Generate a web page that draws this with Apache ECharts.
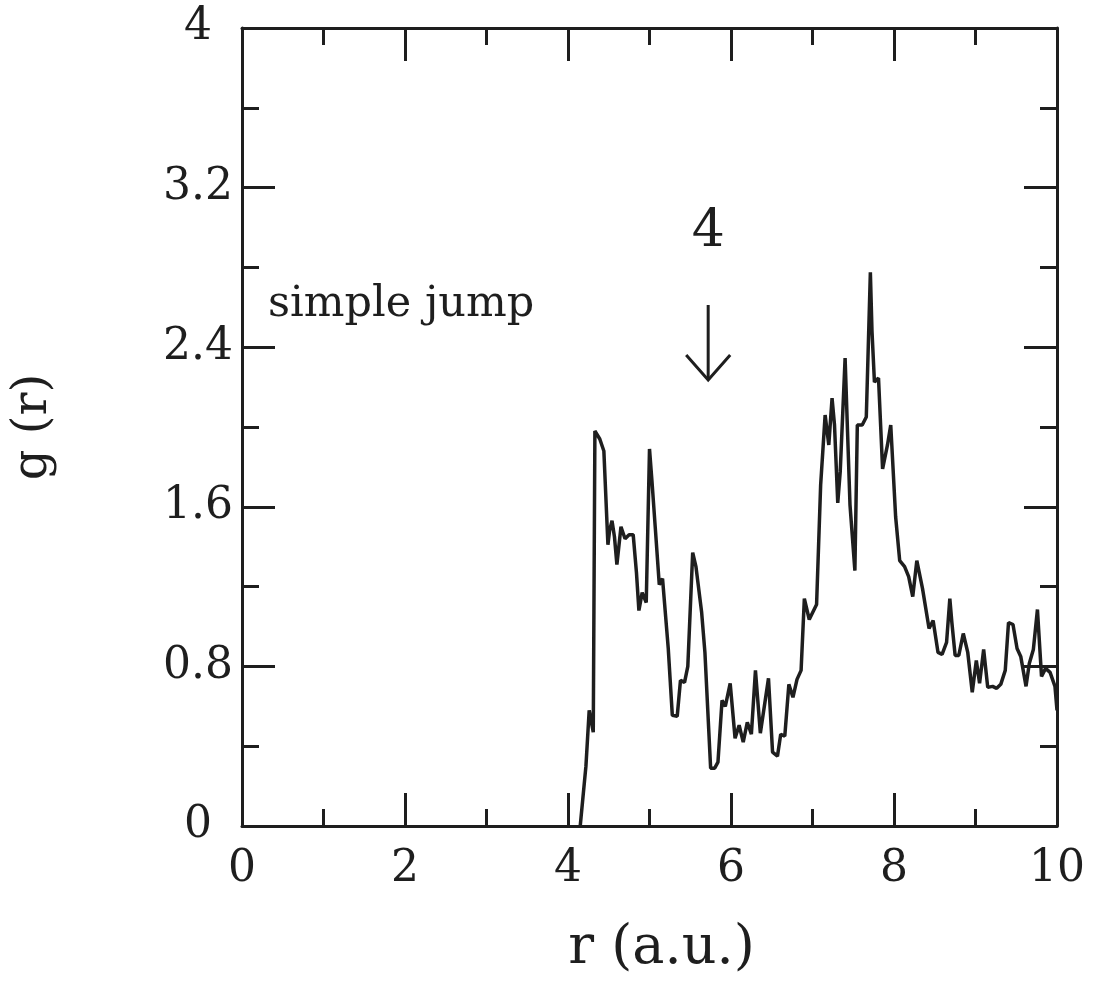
<!DOCTYPE html>
<html>
<head>
<meta charset="utf-8">
<script src="https://cdn.jsdelivr.net/npm/echarts@6/dist/echarts.min.js"></script>
<style>
html,body{margin:0;padding:0;background:#fff;}
#chart{width:1094px;height:981px;}
</style>
</head>
<body>
<div id="chart"></div>
<script>
// r values (a.u.)
const rValues = [4.15,4.22,4.26,4.31,4.33,4.39,4.44,4.49,4.51,4.54,4.57,4.60,4.65,4.70,4.75,4.80,4.84,4.87,4.91,4.96,
5.00,5.03,5.07,5.12,5.16,5.23,5.28,5.34,5.38,5.43,5.47,5.53,5.57,5.64,5.68,5.75,5.80,5.84,5.89,5.93,5.99,
6.05,6.10,6.15,6.20,6.25,6.30,6.36,6.46,6.51,6.57,6.61,6.66,6.71,6.76,6.81,6.86,6.90,6.96,
7.05,7.10,7.155,7.20,7.24,7.27,7.31,7.34,7.40,7.43,7.46,7.52,7.55,7.61,7.66,7.71,7.73,7.76,7.81,7.86,7.92,7.96,
8.02,8.07,8.13,8.18,8.23,8.28,8.35,8.43,8.48,8.54,8.59,8.645,8.685,8.71,8.75,8.795,8.85,8.905,8.96,
9.01,9.05,9.10,9.15,9.21,9.26,9.31,9.365,9.405,9.46,9.51,9.555,9.62,9.66,9.71,9.76,9.81,9.86,9.915,9.975,10.0];
// g(r) values
const gValues = [0,0.30,0.58,0.47,1.98,1.94,1.88,1.41,1.48,1.53,1.45,1.31,1.50,1.44,1.46,1.46,1.27,1.08,1.17,1.12,
1.89,1.73,1.50,1.21,1.24,0.89,0.555,0.55,0.73,0.72,0.80,1.37,1.30,1.07,0.87,0.29,0.29,0.32,0.63,0.60,0.715,
0.44,0.505,0.42,0.52,0.46,0.78,0.465,0.74,0.37,0.35,0.46,0.45,0.71,0.645,0.735,0.78,1.14,1.035,
1.11,1.71,2.06,1.91,2.145,2.01,1.62,1.775,2.345,1.975,1.61,1.28,2.01,2.01,2.05,2.775,2.48,2.225,2.245,1.79,1.91,2.01,
1.55,1.33,1.30,1.25,1.15,1.33,1.19,0.99,1.03,0.87,0.86,0.92,1.14,1.02,0.855,0.855,0.965,0.87,0.67,
0.83,0.715,0.885,0.695,0.70,0.69,0.71,0.78,1.02,1.01,0.89,0.85,0.70,0.815,0.885,1.085,0.75,0.79,0.77,0.70,0.58];
const xTicks = [0,2,4,6,8,10];
const yTicks = [0,0.8,1.6,2.4,3.2,4];
const annotationLabel = '4';
const annotationX = 5.72;
const noteText = 'simple jump';

const ink = '#1e1e1e';
const serif = 'DejaVu Serif';
const data = rValues.map((r,i)=>[r,gValues[i]]);

function axisCommon(showLabel){
  return {
    axisLine:{show:true,onZero:false,lineStyle:{color:ink,width:3}},
    axisTick:{show:true,inside:true,length:33,lineStyle:{color:ink,width:3}},
    minorTick:{show:true,splitNumber:2,length:17,lineStyle:{color:ink,width:3}},
    splitLine:{show:false},
    axisLabel:{show:showLabel,color:ink,fontFamily:serif,fontSize:44}
  };
}

const chart = echarts.init(document.getElementById('chart'));
const xb = axisCommon(true);
xb.axisLabel.margin = 22;
xb.axisLabel.formatter = v => String(+v.toFixed(1));
const yl = axisCommon(true);
yl.axisLabel.margin = 44;
yl.axisLabel.align = 'center';
yl.axisLabel.formatter = v => String(+v.toFixed(1));

chart.setOption({
  animation:false,
  backgroundColor:'#fff',
  grid:{left:242,right:37,top:28,bottom:151,containLabel:false},
  xAxis:[
    Object.assign({type:'value',min:xTicks[0],max:xTicks[xTicks.length-1],interval:2,position:'bottom',
      name:'r (a.u.)',nameLocation:'middle',nameGap:96,
      nameTextStyle:{fontFamily:serif,fontSize:54,color:ink,padding:[0,0,0,24]}},xb),
    Object.assign({type:'value',min:xTicks[0],max:xTicks[xTicks.length-1],interval:2,position:'top'},axisCommon(false))
  ],
  yAxis:[
    Object.assign({type:'value',min:yTicks[0],max:yTicks[yTicks.length-1],interval:0.8,position:'left',
      name:'g (r)',nameLocation:'middle',nameGap:184,nameRotate:90,
      nameTextStyle:{fontFamily:serif,fontSize:48,color:ink}},yl),
    Object.assign({type:'value',min:yTicks[0],max:yTicks[yTicks.length-1],interval:0.8,position:'right'},axisCommon(false))
  ],
  series:[{
    type:'line',data:data,showSymbol:false,symbol:'none',
    lineStyle:{color:ink,width:3.5},
    z:5
  }]
});

const px = chart.convertToPixel({xAxisIndex:0,yAxisIndex:0},[annotationX,0]);
const ax = px[0];
chart.setOption({
  graphic:[
    {type:'text',left:268,top:283,style:{text:noteText,font:'43px "DejaVu Serif"',fill:ink}},
    {type:'text',x:ax,y:232,style:{text:annotationLabel,font:'52px "DejaVu Serif"',fill:ink,align:'center',verticalAlign:'middle'}},
    {type:'line',shape:{x1:ax,y1:305,x2:ax,y2:380},style:{stroke:ink,lineWidth:3}},
    {type:'polyline',shape:{points:[[ax-22,355],[ax,380],[ax+22,355]]},style:{stroke:ink,lineWidth:3,fill:null}}
  ]
});
</script>
</body>
</html>
